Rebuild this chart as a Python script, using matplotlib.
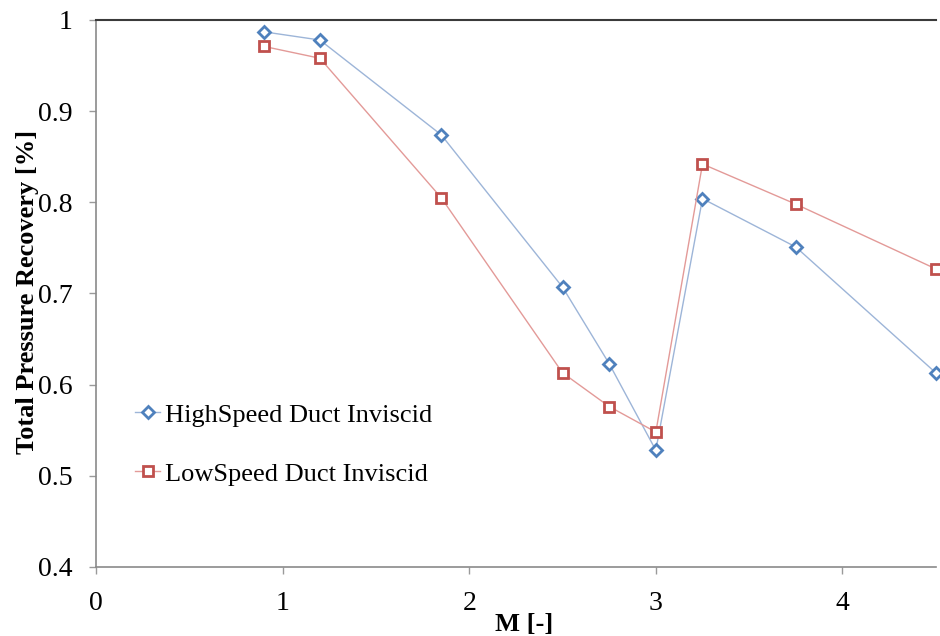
"""
Total pressure recovery vs Mach number, HighSpeed / LowSpeed duct
"""

import matplotlib
matplotlib.use("Agg")
import matplotlib.pyplot as plt

# --- data ---
mach = [0.9, 1.2, 1.85, 2.5, 2.75, 3.0, 3.25, 3.75, 4.5]
high_speed = [0.987, 0.978, 0.874, 0.707, 0.623, 0.528, 0.804, 0.751, 0.613]
low_speed = [0.971, 0.958, 0.805, 0.613, 0.576, 0.548, 0.842, 0.798, 0.727]

x_ticks = [0, 1, 2, 3, 4]
y_ticks = [0.4, 0.5, 0.6, 0.7, 0.8, 0.9, 1.0]
y_tick_labels = ["0.4", "0.5", "0.6", "0.7", "0.8", "0.9", "1"]

plt.rcParams["font.family"] = ["Liberation Serif", "DejaVu Serif"]

fig = plt.figure(figsize=(9.4, 6.36), dpi=100)
ax = fig.add_axes([0.1021, 0.1085, 0.8934, 0.8601])

blue = "#4F81BD"
red = "#C0504D"

ax.plot(mach, high_speed, color="#9DB5D8", linewidth=1.0, marker="D",
        markersize=6, markerfacecolor="white", markeredgecolor=blue,
        markeredgewidth=2.0, label="HighSpeed Duct Inviscid", clip_on=False, zorder=3)
ax.plot(mach, low_speed, color="#E39A98", linewidth=1.0, marker="s",
        markersize=7, markerfacecolor="white", markeredgecolor=red,
        markeredgewidth=2.0, label="LowSpeed Duct Inviscid", clip_on=False, zorder=3)

ax.set_xlim(0, 4.5)
ax.set_ylim(0.4, 1.0)
ax.set_xticks(x_ticks)
ax.set_yticks(y_ticks)
ax.set_yticklabels(y_tick_labels)

for side in ["left", "bottom"]:
    ax.spines[side].set_color("#8a8a8a")
    ax.spines[side].set_linewidth(1.2)
ax.spines["right"].set_visible(False)
ax.spines["top"].set_color("#3a3a3a")
ax.spines["top"].set_linewidth(1.5)

ax.tick_params(axis="both", direction="out", length=5, width=1, color="#9a9a9a",
               labelsize=20, labelcolor="black", pad=12)

ax.set_xlabel("M [-]", fontsize=19, fontweight="bold", va="center")
ax.xaxis.set_label_coords(0.510, -0.106)
ax.set_ylabel("Total Pressure Recovery [%]", fontsize=19, fontweight="bold", va="center")
ax.yaxis.set_label_coords(-0.0810, 0.503)

ax.legend(loc="upper left", bbox_to_anchor=(0.0465, 0.2995), frameon=False,
          fontsize=19, handlelength=0.95, handletextpad=0.18, labelspacing=1.35,
          borderaxespad=0, borderpad=0)

plt.savefig("out.png", dpi=100)
plt.close()
